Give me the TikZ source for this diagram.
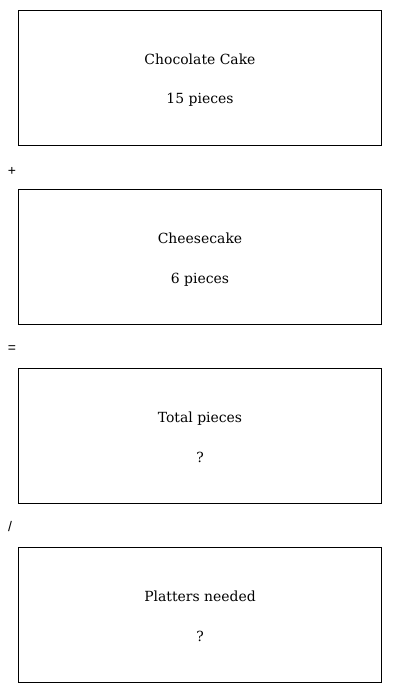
\documentclass[tikz,border=0pt]{standalone}
\usepackage{fontspec}
\newfontfamily\opfont{Liberation Sans}
\newfontfamily\lblfont{DejaVu Serif}
\begin{document}
\begin{tikzpicture}[x=1bp,y=-1bp,
  card/.style={draw=black,line width=1bp,minimum width=363bp,minimum height=135bp,inner sep=0pt,anchor=north west},
  lbl/.style={font=\lblfont\fontsize{14}{16}\selectfont,inner sep=0pt,anchor=base},
  op/.style={font=\opfont\fontsize{14}{16}\selectfont,inner sep=0pt,anchor=center}]
\useasboundingbox (0,0) rectangle (400,693);
\node[card] (b1) at (18,10) {};
\node[card] (b2) at (18,189) {};
\node[card] (b3) at (18,368) {};
\node[card] (b4) at (18,547) {};
\node[lbl] (t1) at (200,64.5) {Chocolate Cake};
\node[lbl] (v1) at (200,104) {15 pieces};
\node[lbl] (t2) at (200,243.5) {Cheesecake};
\node[lbl] (v2) at (200,283) {6 pieces};
\node[lbl] (t3) at (200,422.5) {Total pieces};
\node[lbl] (v3) at (200,462) {?};
\node[lbl] (t4) at (200,601.5) {Platters needed};
\node[lbl] (v4) at (200,641) {?};
\node[op] (o1) at (12,171) {+};
\node[op] (o2) at (12,349) {=};
\node[op] (o3) at (10,527) {/};
\end{tikzpicture}
\end{document}
